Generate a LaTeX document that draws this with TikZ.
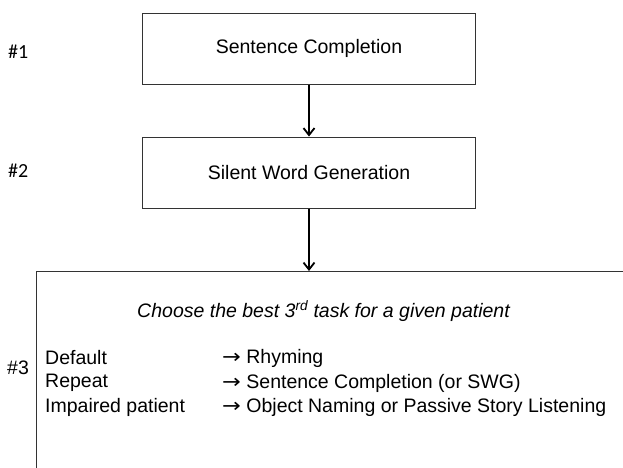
\documentclass[tikz,border=0pt]{standalone}
\usepackage{fontspec}
\setmainfont{Liberation Sans}
\newfontfamily\calib{Carlito}
\newfontfamily\dejavu{DejaVu Sans}
\newcommand{\rarr}{\scalebox{1.15}[1]{\dejavu →}}
\usetikzlibrary{arrows.meta}
\begin{document}
\begin{tikzpicture}[x=1pt,y=-1pt,
  box/.style={draw=black!80,line width=1pt},
  conn/.style={line width=1.8pt,-{Straight Barb[length=7pt,width=11pt,line width=1.8pt]}},
  lab/.style={font=\fontsize{19.5}{23}\selectfont},
  num/.style={font=\calib\fontsize{20}{23}\selectfont}]
\useasboundingbox (0,0) rectangle (623,467);
\clip (0,0) rectangle (623,467);
\node[box,minimum width=333pt,minimum height=71pt,lab] (b1) at (309,48.5) {Sentence Completion};
\node[box,minimum width=333pt,minimum height=71pt,lab] (b2) at (309,172.5) {Silent Word Generation};
\draw[box] (36,490) -- (36,271) -- (640,271);
\coordinate (b3top) at (309,271);
\draw[conn] (b1.south) -- (b2.north);
\draw[conn] (b2.south) -- (b3top);
\node[num,anchor=west,inner sep=0pt] (n1) at (8,52) {\#1};
\node[num,anchor=west,inner sep=0pt] (n2) at (8,171) {\#2};
\node[lab,anchor=west,inner sep=0pt] (n3) at (7,368) {\#3};
\node[lab,font=\itshape\fontsize{19.5}{23}\selectfont] (t) at (323.5,311) {Choose the best 3\textsuperscript{rd} task for a given patient};
\node[lab,anchor=west,inner sep=0pt] (d1) at (45,358) {Default};
\node[lab,anchor=west,inner sep=0pt] (d2) at (45,383) {Repeat};
\node[lab,anchor=west,inner sep=0pt] (d3) at (45,407) {Impaired patient};
\node[lab,anchor=west,inner sep=0pt] (r1) at (222,358) {\rarr\ Rhyming};
\node[lab,anchor=west,inner sep=0pt] (r2) at (222,383) {\rarr\ Sentence Completion (or SWG)};
\node[lab,anchor=west,inner sep=0pt] (r3) at (222,407) {\rarr\ Object Naming or Passive Story Listening};
\end{tikzpicture}
\end{document}
